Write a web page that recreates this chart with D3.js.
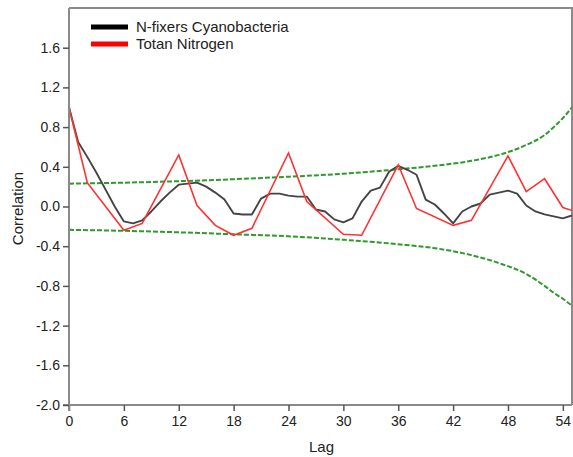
<!DOCTYPE html>
<html>
<head>
<meta charset="utf-8">
<script src="https://cdn.jsdelivr.net/npm/d3@7"></script>
<style>
  html, body { margin: 0; padding: 0; background: #ffffff; }
  svg { display: block; }
  text { font-family: Arial, "Liberation Sans", sans-serif; fill: #222; }
</style>
</head>
<body>
<svg id="chart" width="573" height="457"></svg>
<script>
// ---------- data ----------
const seriesNames = ["N-fixers Cyanobacteria", "Totan Nitrogen"];

const cyanoLags = d3.range(0, 56);
const cyanoValues = [
  1.00, 0.65, 0.50, 0.34, 0.17, 0.00, -0.15, -0.17, -0.14, -0.05,
  0.05, 0.14, 0.22, 0.23, 0.24, 0.20, 0.14, 0.07, -0.07, -0.08,
  -0.08, 0.08, 0.13, 0.13, 0.11, 0.10, 0.10, -0.03, -0.05, -0.13,
  -0.16, -0.12, 0.05, 0.16, 0.19, 0.35, 0.41, 0.37, 0.32, 0.07,
  0.02, -0.07, -0.17, -0.05, 0.00, 0.03, 0.12, 0.14, 0.16, 0.13,
  0.01, -0.05, -0.08, -0.10, -0.12, -0.09
];

const nitrogenLags = [0, 2, 6, 8, 12, 14, 16, 18, 20, 24, 26, 30, 32, 36, 38, 42, 44, 48, 50, 52, 54, 56];
const nitrogenValues = [1.00, 0.24, -0.24, -0.17, 0.52, 0.01, -0.19, -0.29, -0.22, 0.54, 0.05, -0.28, -0.29, 0.42, -0.02, -0.19, -0.14, 0.51, 0.15, 0.28, -0.01, -0.07];

const bandLags  = [0, 6, 12, 18, 24, 30, 36, 40, 44, 47, 50, 52, 53, 54, 55];
const upperBand = [0.23, 0.24, 0.255, 0.275, 0.30, 0.33, 0.375, 0.41, 0.46, 0.52, 0.62, 0.72, 0.80, 0.89, 1.00];
const lowerBand = [-0.235, -0.245, -0.26, -0.28, -0.30, -0.335, -0.38, -0.42, -0.49, -0.57, -0.68, -0.80, -0.87, -0.93, -1.00];

const xTicks = [0, 6, 12, 18, 24, 30, 36, 42, 48, 54];
const yTicks = [-2.0, -1.6, -1.2, -0.8, -0.4, 0.0, 0.4, 0.8, 1.2, 1.6];

// ---------- layout ----------
const svg = d3.select("#chart");
const mLeft = 69, mTop = 8, mRight = 572, mBottom = 405;

const x = d3.scaleLinear().domain([0, 55]).range([mLeft, mRight]);
const y = d3.scaleLinear().domain([-2, 2]).range([mBottom, mTop]);

svg.append("defs").append("clipPath").attr("id", "clip")
  .append("rect").attr("x", mLeft).attr("y", mTop)
  .attr("width", mRight - mLeft).attr("height", mBottom - mTop);

// frame (top & right)
svg.append("path")
  .attr("d", `M${mLeft},${mTop}H${mRight}V${mBottom}`)
  .attr("fill", "none").attr("stroke", "#8a8a8a").attr("stroke-width", 2);

const plot = svg.append("g").attr("clip-path", "url(#clip)");

const pts = (xs, ys) => xs.map((v, i) => [v, ys[i]]);

const bandLine = d3.line().x(d => x(d[0])).y(d => y(d[1])).curve(d3.curveMonotoneX);
[upperBand, lowerBand].forEach(b => {
  plot.append("path")
    .datum(pts(bandLags, b))
    .attr("d", bandLine)
    .attr("fill", "none")
    .attr("stroke", "#2e9a2e")
    .attr("stroke-width", 2)
    .attr("stroke-dasharray", "5,2");
});

const line = d3.line().x(d => x(d[0])).y(d => y(d[1]));

plot.append("path")
  .datum(pts(cyanoLags, cyanoValues))
  .attr("d", line)
  .attr("fill", "none")
  .attr("stroke", "#444444")
  .attr("stroke-width", 1.9)
  .attr("stroke-linejoin", "round");

plot.append("path")
  .datum(pts(nitrogenLags, nitrogenValues))
  .attr("d", line)
  .attr("fill", "none")
  .attr("stroke", "#ff3030")
  .attr("stroke-width", 1.6)
  .attr("stroke-linejoin", "miter");

// ---------- axes ----------
const fmtY = v => d3.format(".1f")(v).replace("\u2212", "-");
const xAxis = svg.append("g")
  .attr("transform", `translate(0,${mBottom})`)
  .call(d3.axisBottom(x).tickValues(xTicks).tickFormat(d3.format("d")).tickSize(6).tickPadding(5).tickSizeOuter(0));
const yAxis = svg.append("g")
  .attr("transform", `translate(${mLeft},0)`)
  .call(d3.axisLeft(y).tickValues(yTicks).tickFormat(fmtY).tickSize(6).tickPadding(3).tickSizeOuter(0));

[xAxis, yAxis].forEach(a => {
  a.select(".domain").attr("stroke", "#8a8a8a").attr("stroke-width", 2);
  a.selectAll(".tick line").attr("stroke", "#555").attr("stroke-width", 1.5);
  a.selectAll(".tick text").attr("font-size", 14).attr("fill", "#222")
    .attr("font-family", "Arial, 'Liberation Sans', sans-serif");
});
xAxis.select(".domain").attr("d", `M${mLeft - 6},0H${mRight}`);
yAxis.select(".domain").attr("d", `M0,${mTop}V${mBottom + 6}`);

// axis titles
svg.append("text")
  .attr("x", (mLeft + mRight) / 2 + 1).attr("y", 452)
  .attr("text-anchor", "middle").attr("font-size", 15)
  .text("Lag");
svg.append("text")
  .attr("transform", `translate(23,${(mTop + mBottom) / 2 + 2}) rotate(-90)`)
  .attr("text-anchor", "middle").attr("font-size", 15)
  .text("Correlation");

// ---------- legend ----------
const legendColors = ["#000000", "#ff0000"];
const lg = svg.append("g");
seriesNames.forEach((name, i) => {
  const yy = 27 + i * 17;
  lg.append("line")
    .attr("x1", 91).attr("x2", 128).attr("y1", yy).attr("y2", yy)
    .attr("stroke", legendColors[i]).attr("stroke-width", 5);
  lg.append("text")
    .attr("x", 136).attr("y", yy + 5)
    .attr("font-size", 15)
    .text(name);
});
</script>
</body>
</html>
